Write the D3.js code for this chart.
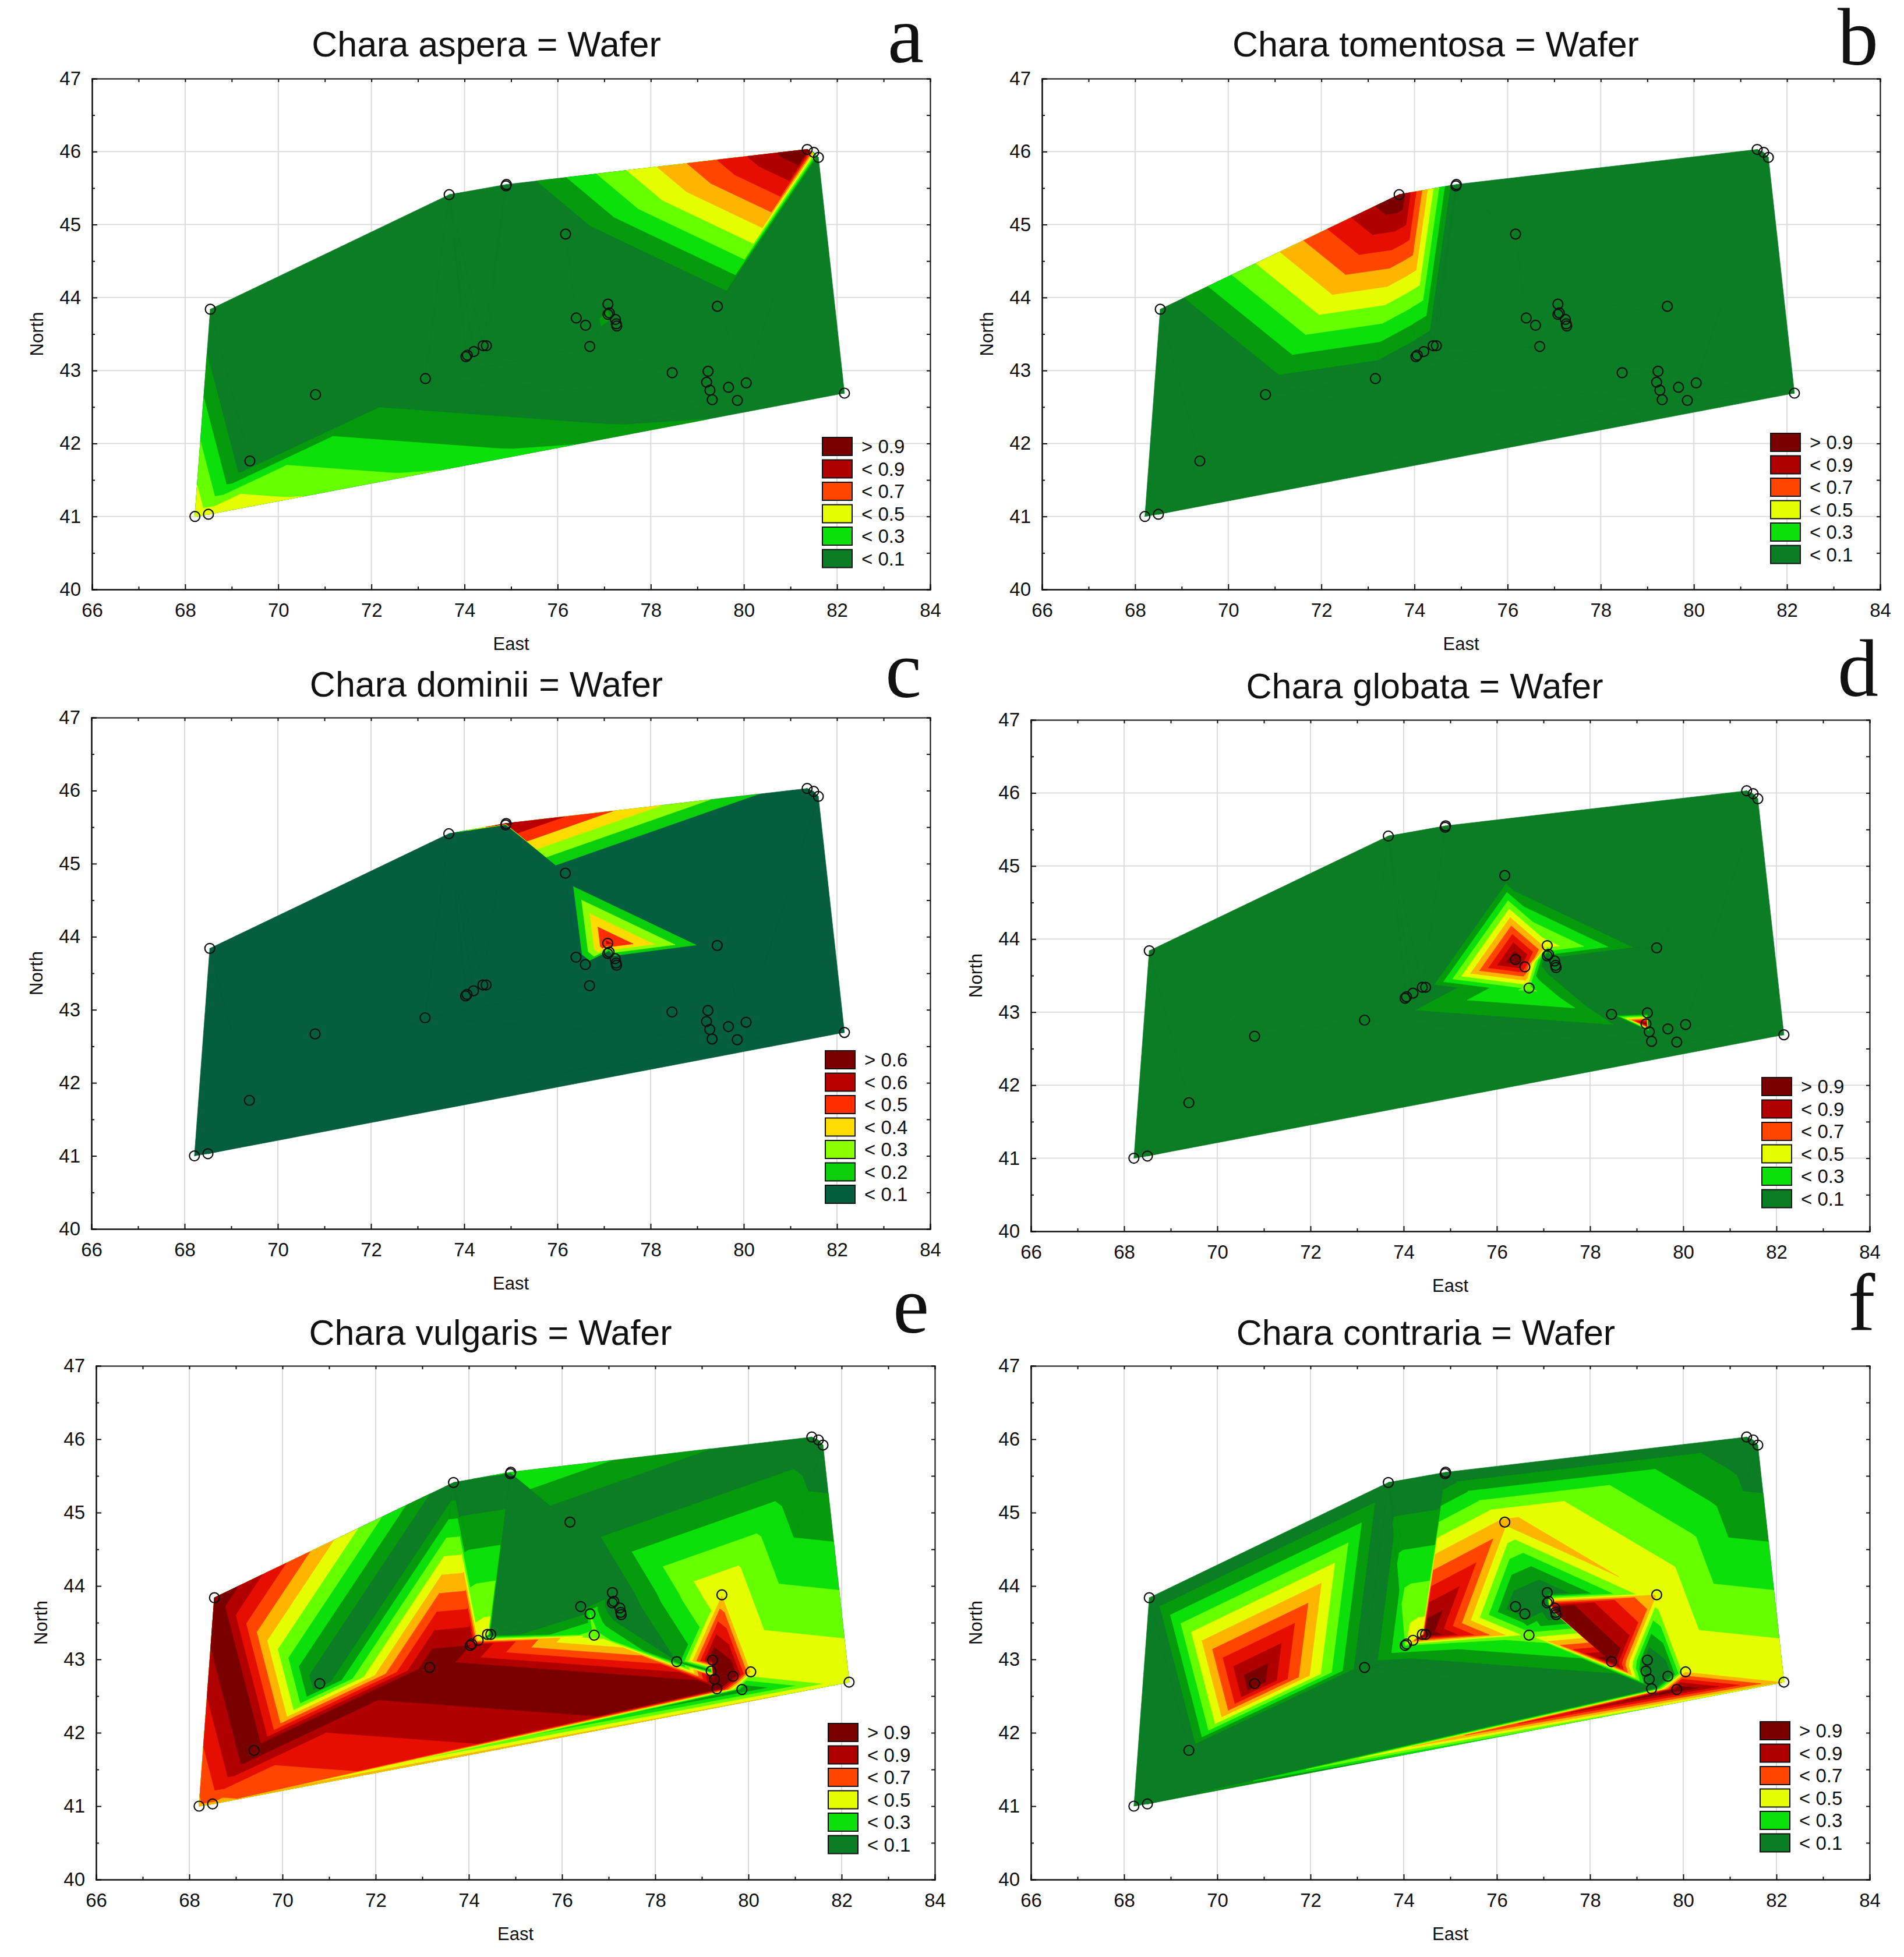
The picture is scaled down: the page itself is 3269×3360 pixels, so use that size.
<!DOCTYPE html>
<html>
<head>
<meta charset="utf-8">
<script src="https://cdn.jsdelivr.net/npm/d3@7"></script>
<style>
  html, body { margin: 0; padding: 0; background: #fff; }
  text { font-family: "Liberation Sans", Arial, sans-serif; fill: #111; }
</style>
</head>
<body>
<svg id="chart" width="3269" height="3360"></svg>
<script>
// sample sites, same for all six maps
const siteEast = [68.21,68.50,69.39,68.54,70.80,73.16,73.67,74.90,74.89,76.17,74.03,74.06,74.20,74.40,74.47,76.40,76.60,76.69,77.08,77.08,77.11,77.24,77.26,77.27,78.46,79.23,79.20,79.27,79.32,79.67,80.05,79.86,79.43,81.36,81.50,81.60,82.16];
const siteNorth = [41.00,41.03,41.76,43.84,42.67,42.89,45.41,45.55,45.53,44.87,43.19,43.21,43.26,43.34,43.34,43.72,43.62,43.33,43.91,43.77,43.79,43.70,43.64,43.61,42.97,42.99,42.84,42.73,42.60,42.77,42.83,42.59,43.88,46.03,45.99,45.92,42.69];

// wafer value at each site, one array per species
const asperaValues =    [.47,.47,0,0,0,0,0,0,0,0,0,0,0,0,0,0,0,0,0,.16,0,0,0,0,0,0,0,0,0,0,0,0,0,1,0,0,0];
const tomentosaValues = [0,0,0,0,0,0,1,0,0,0,0,0,0,0,0,0,0,0,0,0,0,0,0,0,0,0,0,0,0,0,0,0,0,0,0,0,0];
const dominiiValues =   [0,0,0,0,0,0,0,.62,0,0,0,0,0,0,0,0,0,0,.52,0,0,0,0,0,0,0,0,0,0,0,0,0,0,0,0,0,0];
const globataValues =   [0,0,0,0,0,0,0,0,0,0,0,0,0,0,0,1,.72,.32,.45,0,0,0,0,0,0,0,1,0,0,0,0,0,0,0,0,0,0];
const vulgarisValues =  [.58,.58,1,1,0,1,0,.3,0,0,.9,.9,.45,.45,0,0,.3,.35,0,0,0,0,0,0,.1,1,.1,1,1,1,.49,.1,.49,0,0,0,.49];
const contrariaValues = [0,0,0,0,1,0,0,0,0,.53,.3,.4,.45,.45,1,0,0,.35,0,0,.3,1,1,0,1,0,0,0,0,0,.49,1,.49,0,0,0,.49];

const wideLevels = [0,.1,.2,.3,.4,.5,.6,.7,.8,.9];
const wideColors = ['#0b7d24','#059b0d','#0be00b','#66ff00','#e6ff00','#ffb400','#ff4500','#e60e00','#b00000','#7a0000'];
const wideLegend = ['> 0.9','< 0.9','< 0.7','< 0.5','< 0.3','< 0.1'];
const wideSwatch = ['#7a0000','#b00000','#ff4500','#e6ff00','#0be00b','#0b7d24'];
const shortLevels = [0,.1,.2,.3,.4,.5,.6];
const shortColors = ['#055f3e','#0bcf0b','#8cff00','#ffdc00','#ff2d00','#b80000','#7a0000'];
const shortLegend = ['> 0.6','< 0.6','< 0.5','< 0.4','< 0.3','< 0.2','< 0.1'];
const shortSwatch = ['#7a0000','#b80000','#ff2d00','#ffdc00','#8cff00','#0bcf0b','#055f3e'];
const xTicks = d3.range(66, 85, 2);
const yTicks = d3.range(40, 48, 1);

const panels = [
  { title: 'Chara aspera = Wafer', letter: 'a', values: asperaValues, x0: 158, x1: 1597, y0: 135, y1: 1012, titleX: 835, titleY: 97, letterX: 1555, letterY: 107, legX: 1412, legY: 751, gridH: true },
  { title: 'Chara tomentosa = Wafer', letter: 'b', values: tomentosaValues, x0: 1789, x1: 3228, y0: 135, y1: 1012, titleX: 2465, titleY: 97, letterX: 3190, letterY: 111, legX: 3040, legY: 744, gridH: true },
  { title: 'Chara dominii = Wafer', letter: 'c', values: dominiiValues, x0: 157, x1: 1597, y0: 1232, y1: 2110, titleX: 835, titleY: 1196, letterX: 1551, letterY: 1197, legX: 1417, legY: 1804, gridH: false, short: true },
  { title: 'Chara globata = Wafer', letter: 'd', values: globataValues, x0: 1770, x1: 3210, y0: 1236, y1: 2114, titleX: 2446, titleY: 1199, letterX: 3190, letterY: 1195, legX: 3025, legY: 1850, gridH: true },
  { title: 'Chara vulgaris = Wafer', letter: 'e', values: vulgarisValues, x0: 165, x1: 1605, y0: 2345, y1: 3227, titleX: 842, titleY: 2309, letterX: 1564, letterY: 2288, legX: 1422, legY: 2959, gridH: false },
  { title: 'Chara contraria = Wafer', letter: 'f', values: contrariaValues, x0: 1770, x1: 3210, y0: 2345, y1: 3227, titleX: 2448, titleY: 2309, letterX: 3196, letterY: 2284, legX: 3022, legY: 2956, gridH: false }
];

// triangulate once, every map uses the same mesh
const delaunay = d3.Delaunay.from(siteEast.map((e, i) => [e, siteNorth[i]]));

// keep the part of a triangle where value >= level (Sutherland-Hodgman on one plane)
function clipAbove(poly, level) {
  const out = [];
  poly.forEach((p, i) => {
    const q = poly[(i + 1) % poly.length];
    if (p[2] >= level) out.push(p);
    if ((p[2] >= level) !== (q[2] >= level)) {
      const t = (level - p[2]) / (q[2] - p[2]);
      out.push([p[0] + t * (q[0] - p[0]), p[1] + t * (q[1] - p[1]), level]);
    }
  });
  return out;
}

const svg = d3.select('#chart');

panels.forEach(p => {
  const x = d3.scaleLinear().domain([66, 84]).range([p.x0, p.x1]);
  const y = d3.scaleLinear().domain([40, 47]).range([p.y1, p.y0]);
  const g = svg.append('g');

  // gridlines
  g.append('g').selectAll('line').data(xTicks).join('line')
    .attr('x1', d => x(d)).attr('x2', d => x(d)).attr('y1', p.y0).attr('y2', p.y1)
    .attr('stroke', '#dcdcdc').attr('stroke-width', 2);
  if (p.gridH) {
    g.append('g').selectAll('line').data(yTicks).join('line')
      .attr('x1', p.x0).attr('x2', p.x1).attr('y1', d => y(d)).attr('y2', d => y(d))
      .attr('stroke', '#dcdcdc').attr('stroke-width', 2);
  }

  // filled bands, low to high, each painted over the one before
  const levels = p.short ? shortLevels : wideLevels;
  const colors = p.short ? shortColors : wideColors;
  const line = d3.line().x(d => x(d[0])).y(d => y(d[1]));
  levels.forEach((lev, k) => {
    let d = '';
    for (let t = 0; t < delaunay.triangles.length; t += 3) {
      const tri = [0, 1, 2].map(j => {
        const s = delaunay.triangles[t + j];
        return [siteEast[s], siteNorth[s], p.values[s]];
      });
      const part = k === 0 ? tri : clipAbove(tri, lev);
      if (part.length > 2) d += line(part) + 'Z';
    }
    if (d) g.append('path').attr('d', d).attr('fill', colors[k]).attr('stroke', colors[k]).attr('stroke-width', 0.7);
  });

  // axes, ticks point into the plot
  const xAxis = d3.axisBottom(x).tickValues(xTicks).tickSize(-9).tickPadding(24).tickFormat(d3.format('d'));
  const yAxis = d3.axisLeft(y).tickValues(yTicks).tickSize(-9).tickPadding(19).tickFormat(d3.format('d'));
  const xMinor = d3.axisBottom(x).tickValues(d3.range(67, 84, 2)).tickSize(-5);
  const yMinor = d3.axisLeft(y).tickValues(d3.range(40.5, 47, 1)).tickSize(-5);
  const xTop = d3.axisTop(x).tickValues(d3.range(66, 85, 1)).tickSize(-6);
  const yRight = d3.axisRight(y).tickValues(d3.range(40, 47.5, .5)).tickSize(-6);
  [[xMinor, p.y1], [xTop, p.y0]].forEach(([a, yy]) => {
    g.append('g').attr('transform', `translate(0,${yy})`).call(a).selectAll('text').remove();
  });
  [[yMinor, p.x0], [yRight, p.x1]].forEach(([a, xx]) => {
    g.append('g').attr('transform', `translate(${xx},0)`).call(a).selectAll('text').remove();
  });
  g.append('g').attr('transform', `translate(0,${p.y1})`).call(xAxis);
  g.append('g').attr('transform', `translate(${p.x0},0)`).call(yAxis);
  g.selectAll('.domain, .tick line').attr('stroke', '#111').attr('stroke-width', 2);
  g.selectAll('.tick text').style('font-size', '33px').attr('fill', '#111');

  // sites
  g.append('g').selectAll('circle').data(siteEast).join('circle')
    .attr('cx', d => x(d)).attr('cy', (d, i) => y(siteNorth[i])).attr('r', 8.5)
    .attr('fill', 'none').attr('stroke', '#111').attr('stroke-width', 2.2);

  // axis names and title
  g.append('text').attr('x', (p.x0 + p.x1) / 2).attr('y', p.y1 + 104).attr('text-anchor', 'middle').style('font-size', '31px').text('East');
  g.append('text').attr('transform', `translate(${p.x0 - 84},${(p.y0 + p.y1) / 2}) rotate(-90)`).attr('text-anchor', 'middle').style('font-size', '31px').text('North');
  g.append('text').attr('x', p.titleX).attr('y', p.titleY).attr('text-anchor', 'middle').style('font-size', '61px').text(p.title);
  g.append('text').attr('x', p.letterX).attr('y', p.letterY).attr('text-anchor', 'middle')
    .style('font-family', '"Liberation Serif", serif').style('font-size', '140px').text(p.letter);

  // legend
  const labels = p.short ? shortLegend : wideLegend;
  const swatches = p.short ? shortSwatch : wideSwatch;
  const leg = g.append('g').selectAll('g').data(labels).join('g')
    .attr('transform', (d, i) => `translate(${p.legX},${p.legY + i * 38.5})`);
  leg.append('rect').attr('width', 51).attr('height', 31)
    .attr('fill', (d, i) => swatches[i]).attr('stroke', '#111').attr('stroke-width', 2);
  leg.append('text').attr('x', 67).attr('y', 27).style('font-size', '33px').text(d => d);
});
</script>
</body>
</html>
